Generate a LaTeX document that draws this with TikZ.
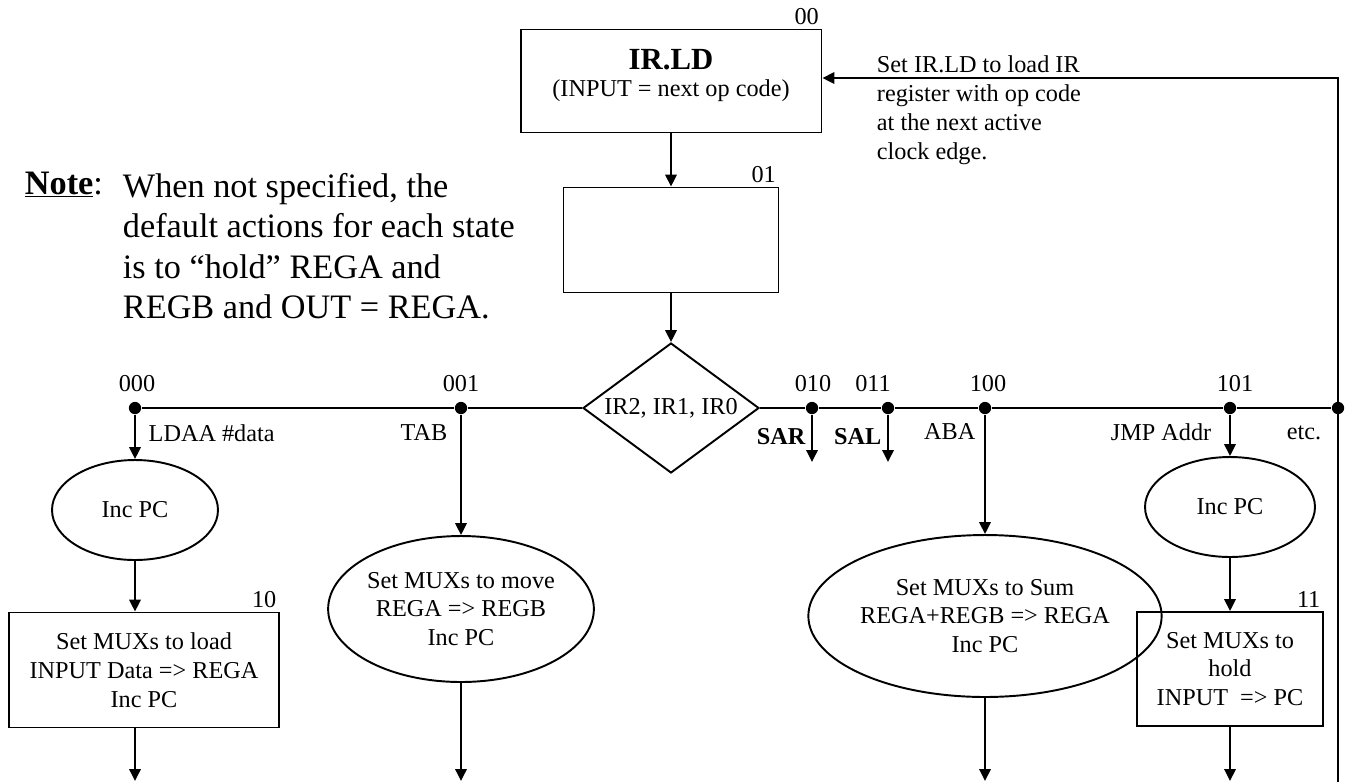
\documentclass[tikz,border=0pt]{standalone}
\usepackage{fontspec}
\setmainfont{Liberation Serif}
\usetikzlibrary{shapes.geometric,arrows.meta}
\newcommand\stfont{\fontsize{13.8}{16.4}\selectfont}
\newcommand\ttlfont{\fontsize{17.5}{20}\selectfont\bfseries}
\newcommand\notefont{\fontsize{19.5}{23.1}\selectfont}

\begin{document}
\begin{tikzpicture}[x=0.02cm, y=-0.02cm, line width=1.1pt,
  >={Triangle[length=6.8pt, width=6.5pt]},
  every node/.style={font=\stfont, align=center},
  statebox/.style={draw, rectangle, inner sep=0pt},
  actoval/.style={draw, ellipse, inner sep=0pt},
  junction/.style={circle, fill, inner sep=0pt, minimum size=7pt},
  tag/.style={inner sep=1.5pt}]
\useasboundingbox (0,0) rectangle (1346,782);

% fetch and decode
\node[statebox, minimum width=6.02cm, minimum height=2.06cm, text depth=9pt,
  label={[tag, anchor=south east]north east:00}] (irld) at (671,81)
  {{\ttlfont IR.LD}\\[-1pt](INPUT = next op code)};
\node[statebox, minimum width=4.3cm, minimum height=2.1cm,
  label={[tag, anchor=south east]north east:01}] (blank) at (671,240) {};
\node[draw, diamond, aspect=1.4, inner sep=0pt, minimum width=3.52cm,
  minimum height=2.6cm] (opdec) at (671,408) {IR2, IR1, IR0};

% op code branches
\node[junction] (d000) at (135,408) {};
\node[junction] (d001) at (461,408) {};
\node[junction] (d010) at (812,408) {};
\node[junction] (d011) at (888,408) {};
\node[junction] (d100) at (985,408) {};
\node[junction] (d101) at (1230,408) {};
\node[junction] (detc) at (1338,408) {};
\node (l000) at (137,384) {000};
\node (l001) at (461,384) {001};
\node (l010) at (813,384) {010};
\node (l011) at (873,384) {011};
\node (l100) at (988,384) {100};
\node (l101) at (1235,384) {101};

\node[anchor=west, inner sep=1pt] (nldaa) at (146,433) {LDAA \#data};
\node[anchor=east, inner sep=1pt] (ntab) at (450,433) {TAB};
\node[anchor=east, inner sep=1pt, font=\stfont\bfseries] (nsar) at (808,437) {SAR};
\node[anchor=east, inner sep=1pt, font=\stfont\bfseries] (nsal) at (884,437) {SAL};
\node[anchor=east, inner sep=1pt] (naba) at (978,432) {ABA};
\node[anchor=east, inner sep=1pt] (njmp) at (1214,432) {JMP Addr};
\node[anchor=east, inner sep=1pt] (netc) at (1324,433) {etc.};

% action states
\node[actoval, minimum width=3.32cm, minimum height=2cm] (incpca) at (135,510) {Inc PC};
\node[statebox, minimum width=5.4cm, minimum height=2.3cm,
  label={[tag, anchor=south east]north east:10}] (loada) at (144,670)
  {Set MUXs to load\\INPUT Data => REGA\\Inc PC};
\node[actoval, minimum width=5.22cm, minimum height=2.92cm] (movab) at (461,609)
  {Set MUXs to move\\REGA => REGB\\Inc PC};
\node[actoval, minimum width=5.42cm, minimum height=3.24cm] (sumab) at (985,616)
  {Set MUXs to Sum\\REGA+REGB => REGA\\Inc PC};
\node[actoval, minimum width=3.4cm, minimum height=2cm] (incpcj) at (1230,507) {Inc PC};
\node[statebox, minimum width=3.72cm, minimum height=2.28cm,
  label={[tag, anchor=south east]north east:11}] (jmpbox) at (1230,669)
  {Set MUXs to\\hold\\INPUT~~=> PC};

\coordinate (e000) at (135,781);
\coordinate (e001) at (461,781);
\coordinate (e010) at (812,462);
\coordinate (e011) at (888,462);
\coordinate (e100) at (985,781);
\coordinate (e101) at (1230,781);
\coordinate (fbbot) at (1338,782);
\coordinate (fbtop) at (1338,78);

\draw[->] (irld) -- (blank);
\draw[->] (blank) -- (opdec);
\draw (d000) -- (d001) -- (opdec.west);
\draw (opdec.east) -- (d010) -- (d011) -- (d100) -- (d101) -- (detc);
\draw[->] (d000) -- (incpca);
\draw[->] (incpca.south) -- (incpca.south |- loada.north);
\draw[->] (loada.south -| e000) -- (e000);
\draw[->] (d001) -- (movab);
\draw[->] (movab) -- (e001);
\draw[->] (d010) -- (e010);
\draw[->] (d011) -- (e011);
\draw[->] (d100) -- (sumab);
\draw[->] (sumab) -- (e100);
\draw[->] (d101) -- (incpcj);
\draw[->] (incpcj) -- (jmpbox);
\draw[->] (jmpbox) -- (e101);
\draw[->] (fbbot) -- (fbtop) -- (irld.east |- fbtop);

% notes
\node[anchor=north west, align=left, inner sep=0pt] (fbnote) at (876,55)
  {Set IR.LD to load IR\\register with op code\\at the next active\\clock edge.};
\node[anchor=base west, inner sep=0pt, font=\notefont] (notehead) at (24,194)
  {\underline{\textbf{Note}}:};
\node[anchor=north west, align=left, inner sep=0pt, font=\notefont] (notebody) at (122,172)
  {When not specified, the\\default actions for each state\\is to “hold” REGA and\\REGB and OUT = REGA.};
\end{tikzpicture}
\end{document}
